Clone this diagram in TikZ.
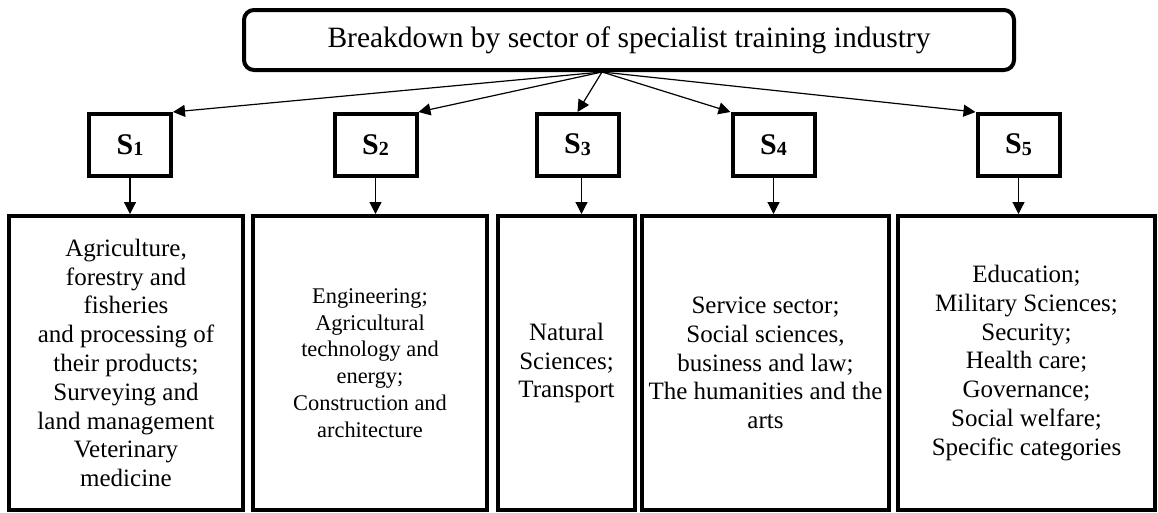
\documentclass[tikz,border=0pt]{standalone}
\usepackage{fontspec}
\setmainfont{Liberation Serif}
\usetikzlibrary{arrows.meta}
\newcommand{\slabel}[1]{{\fontsize{30}{30}\selectfont\bfseries S\raisebox{-1.7pt}{\fontsize{20}{20}\selectfont\bfseries #1}}}
\begin{document}
\begin{tikzpicture}[x=1pt,y=-1pt,
  arr/.style={line width=1.2pt,-{Triangle[length=12pt,width=12pt]}},
  topbox/.style={draw,line width=4pt,rounded corners=10pt,minimum width=770pt,minimum height=60pt,inner sep=0pt,font=\fontsize{29.5}{34}\selectfont},
  sbox/.style={draw,line width=4pt,minimum width=82pt,minimum height=62pt,inner sep=0pt},
  catbox/.style={draw,line width=4pt,minimum height=294pt,inner sep=0pt,align=center,font=\fontsize{25}{28.8}\selectfont},
  smallcat/.style={catbox,font=\fontsize{22.4}{26.8}\selectfont},
]
\useasboundingbox (0,0) rectangle (1158,512);
\node[topbox] (top) at (629,40) {Breakdown by sector of specialist training industry};
\coordinate (o) at ([xshift=-27pt]top.south);

\node[sbox] (s1) at (130,145) {\slabel{1}};
\node[sbox] (s2) at (375.5,145) {\slabel{2}};
\node[sbox] (s3) at (577.5,145) {\slabel{3}};
\node[sbox] (s4) at (773.5,145) {\slabel{4}};
\node[sbox] (s5) at (1018.5,145) {\slabel{5}};

\node[catbox,minimum width=234pt] (b1) at (126,363) {Agriculture,\\forestry and\\fisheries\\and processing of\\their products;\\Surveying and\\land management\\Veterinary\\medicine};
\node[smallcat,minimum width=234pt] (b2) at (370,363) {Engineering;\\Agricultural\\technology and\\energy;\\Construction and\\architecture};
\node[catbox,minimum width=137pt] (b3) at (566.5,363) {Natural\\Sciences;\\Transport};
\node[catbox,minimum width=247pt] (b4) at (765.5,363) {Service sector;\\Social sciences,\\business and law;\\The humanities and the\\arts};
\node[catbox,minimum width=257pt] (b5) at (1026.5,363) {Education;\\Military Sciences;\\Security;\\Health care;\\Governance;\\Social welfare;\\Specific categories};

\draw[arr] (o) -- (s1.north east);
\draw[arr] (o) -- (s2.north east);
\draw[arr] (o) -- (s3.north);
\draw[arr] (o) -- (s4.north west);
\draw[arr] (o) -- (s5.north west);

\draw[arr] (s1.south) -- (s1.south |- b1.north);
\draw[arr] (s2.south) -- (s2.south |- b2.north);
\draw[arr] ([xshift=4pt]s3.south) -- ([xshift=4pt]s3.south |- b3.north);
\draw[arr] (s4.south) -- (s4.south |- b4.north);
\draw[arr] (s5.south) -- (s5.south |- b5.north);
\end{tikzpicture}
\end{document}
